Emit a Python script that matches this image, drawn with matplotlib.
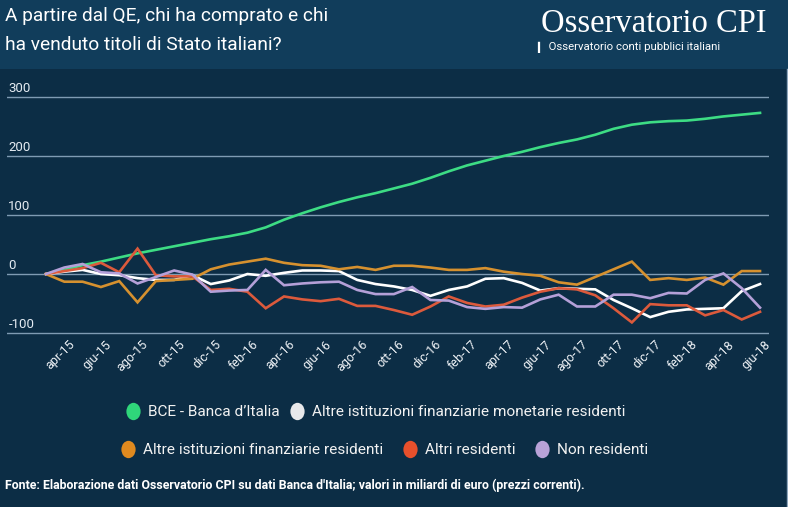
import numpy as np
from matplotlib import pyplot as plt
from matplotlib.lines import Line2D
from matplotlib.patches import Rectangle
from matplotlib.path import Path
from matplotlib.transforms import ScaledTranslation

# months from mar-15 to giu-18 (cumulative change since the start of QE)
months = ['mar-15', 'apr-15', 'mag-15', 'giu-15', 'lug-15', 'ago-15', 'set-15', 'ott-15',
          'nov-15', 'dic-15', 'gen-16', 'feb-16', 'mar-16', 'apr-16', 'mag-16', 'giu-16',
          'lug-16', 'ago-16', 'set-16', 'ott-16', 'nov-16', 'dic-16', 'gen-17', 'feb-17',
          'mar-17', 'apr-17', 'mag-17', 'giu-17', 'lug-17', 'ago-17', 'set-17', 'ott-17',
          'nov-17', 'dic-17', 'gen-18', 'feb-18', 'mar-18', 'apr-18', 'mag-18', 'giu-18']

bce = [0, 7, 15, 21, 28, 35, 41, 47, 53, 59, 64, 70, 79, 92, 103, 113, 122, 130, 137, 145,
       153, 163, 174, 184, 192, 200, 207, 215, 222, 228, 236, 246, 253, 257, 259, 260, 263, 267, 270, 273]
ifm = [0, 4, 7, 0, -2, -7, -10, -10, -2, -17, -11, 0, -3, 2, 6, 6, 5, -10, -17, -21,
       -27, -37, -27, -21, -8, -7, -15, -28, -24, -25, -26, -44, -58, -73, -64, -60, -59, -58, -29, -17]
aif = [0, -13, -13, -22, -12, -48, -12, -10, -8, 8, 16, 21, 26, 19, 15, 14, 8, 12, 7, 14,
       14, 11, 7, 7, 10, 4, 0, -3, -14, -18, -5, 8, 21, -10, -7, -10, -6, -18, 5, 5]
altri = [0, 5, 10, 19, 3, 43, -2, -4, -4, -27, -25, -30, -58, -38, -43, -46, -42, -54, -54, -61,
         -69, -55, -38, -49, -55, -52, -40, -30, -24, -26, -36, -58, -82, -51, -53, -53, -70, -61, -77, -64]
nonres = [0, 11, 17, 3, 1, -16, -5, 6, -1, -30, -28, -27, 7, -19, -16, -14, -13, -27, -34, -34,
          -22, -44, -45, -56, -59, -56, -57, -43, -35, -55, -55, -35, -35, -41, -32, -33, -10, 1, -24, -57]

series_names = ['BCE - Banca d\u2019Italia', 'Altre istituzioni finanziarie monetarie residenti',
                'Altre istituzioni finanziarie residenti', 'Altri residenti', 'Non residenti']
line_colors = ['#3ddc84', '#ffffff', '#d6912f', '#dc5a3c', '#b4a0d8']
dot_colors = ['#2fd67a', '#e8e8ea', '#e08a1f', '#e8502c', '#b9a2d8']
yticks = [-100, 0, 100, 200, 300]

bg = '#0c2d45'
header = '#113d5b'
grid_c = '#7f9bb3'
sans = ['Roboto', 'DejaVu Sans']

fig = plt.figure(figsize=(7.88, 5.07), dpi=100, facecolor=bg)
fig.add_artist(Rectangle((0, 1 - 69 / 507), 1, 69 / 507, transform=fig.transFigure,
                         facecolor=header, edgecolor='none', zorder=0))
fig.add_artist(Line2D([0.9985, 0.9985], [0, 1 - 69 / 507], transform=fig.transFigure,
                      color='#8ea6bc', lw=1))

# title + logo
fig.text(5 / 788, 1 - 7 / 507, 'A partire dal QE, chi ha comprato e chi\nha venduto titoli di Stato italiani?',
         family=sans, fontsize=13.8, color='white', va='top', ha='left', linespacing=1.78)
fig.text(541 / 788, 1 - 24 / 507, 'Osservatorio CPI', family='Liberation Serif', fontsize=23.5,
         color='white', va='center', ha='left')
fig.text(537 / 788, 1 - 47 / 507, '\u258e Osservatorio conti pubblici italiani', family=sans,
         fontsize=8.2, color='white', va='center', ha='left')

ax = fig.add_axes([7 / 788, 1 - 336 / 507, 762 / 788, 242 / 507])
ax.set_facecolor(bg)
x = np.arange(len(months))
for vals, c in zip([bce, ifm, aif, altri, nonres], line_colors):
    ax.plot(x, vals, color=c, lw=1.9, solid_joinstyle='miter')

ax.set_xlim(-2.13, 39.49)
ax.set_ylim(-105, 305)
ax.set_yticks(yticks)
ax.grid(axis='y', color=grid_c, lw=1)
ax.set_axisbelow(True)
for s in ax.spines.values():
    s.set_visible(False)
ax.tick_params(axis='y', length=0, labelleft=False)
for v in yticks:
    ax.annotate(str(v), xy=(0, v), xycoords=('axes fraction', 'data'), xytext=(1, 1.5),
                textcoords='offset points', ha='left', va='bottom', fontsize=9.5,
                color='#e4ebf2', family='Roboto')

ax.set_xticks(x[1::2], months[1::2])
ax.tick_params(axis='x', length=0, pad=1.5, labelsize=9, labelcolor='#eef2f6')
for lbl in ax.get_xticklabels():
    lbl.set_rotation(45)
    lbl.set_ha('right')
    lbl.set_va('top')
    lbl.set_rotation_mode('anchor')
    lbl.set_family('Roboto')
    lbl.set_transform(lbl.get_transform() + ScaledTranslation(4 / 100, 0, fig.dpi_scale_trans))

# legend: two centered rows of dots (slightly oval as in the source)
circ = Path.unit_circle()
oval = Path(circ.vertices * [0.82, 1.0], circ.codes)
handles = [Line2D([], [], ls='none', marker=oval, markersize=12.5, mfc=c, mec='none') for c in dot_colors]
leg_kw = dict(loc='center', frameon=False, labelcolor='#f2f2f2', handlelength=0.9,
              handletextpad=0.5, borderpad=0, prop={'family': sans, 'size': 11.1})
fig.legend(handles[:2], series_names[:2], ncol=2, bbox_to_anchor=(0.477, 1 - 412 / 507),
           columnspacing=0.7, **leg_kw)
fig.legend(handles[2:], series_names[2:], ncol=3, bbox_to_anchor=(0.488, 1 - 450 / 507),
           columnspacing=1.3, **leg_kw)

fig.text(5 / 788, 1 - 485 / 507,
         'Fonte: Elaborazione dati Osservatorio CPI su dati Banca d\'Italia; valori in miliardi di euro (prezzi correnti).',
         family=sans, fontsize=8.95, fontweight='bold', color='white', va='center', ha='left')

fig.savefig('out.png', dpi=100, facecolor=bg)
